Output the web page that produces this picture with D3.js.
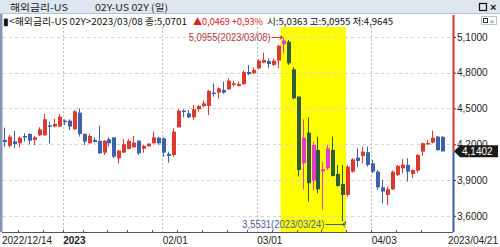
<!DOCTYPE html>
<html>
<head>
<meta charset="utf-8">
<script src="https://cdn.jsdelivr.net/npm/d3@7"></script>
<style>
  body { margin: 0; background: #fff; }
  svg { display: block; }
</style>
</head>
<body>
<svg id="chart"></svg>
<script>
// US 2Y yield, daily candles 2022/12/14 - 2023/04/21
const dates = [
  '2022-12-14','2022-12-15','2022-12-16','2022-12-19','2022-12-20','2022-12-21','2022-12-22','2022-12-23','2022-12-27','2022-12-28','2022-12-29','2022-12-30',
  '2023-01-03','2023-01-04','2023-01-05','2023-01-06','2023-01-09','2023-01-10','2023-01-11','2023-01-12','2023-01-13','2023-01-17','2023-01-18','2023-01-19','2023-01-20','2023-01-23','2023-01-24','2023-01-25','2023-01-26','2023-01-27','2023-01-30','2023-01-31',
  '2023-02-01','2023-02-02','2023-02-03','2023-02-06','2023-02-07','2023-02-08','2023-02-09','2023-02-10','2023-02-13','2023-02-14','2023-02-15','2023-02-16','2023-02-17','2023-02-21','2023-02-22','2023-02-23','2023-02-24','2023-02-27','2023-02-28',
  '2023-03-01','2023-03-02','2023-03-03','2023-03-06','2023-03-07','2023-03-08','2023-03-09','2023-03-10','2023-03-13','2023-03-14','2023-03-15','2023-03-16','2023-03-17','2023-03-20','2023-03-21','2023-03-22','2023-03-23','2023-03-24','2023-03-27','2023-03-28','2023-03-29','2023-03-30','2023-03-31',
  '2023-04-03','2023-04-04','2023-04-05','2023-04-06','2023-04-07','2023-04-10','2023-04-11','2023-04-12','2023-04-13','2023-04-14','2023-04-17','2023-04-18','2023-04-19','2023-04-20','2023-04-21'
];
const open = [
  4.236,4.186,4.225,4.208,4.269,4.286,4.236,4.275,4.275,4.359,4.348,4.348,
  4.398,4.398,4.325,4.465,4.286,4.208,4.236,4.228,4.130,4.242,4.258,4.082,4.130,4.161,4.174,4.230,4.163,4.183,4.208,4.255,
  4.250,4.119,4.110,4.342,4.482,4.459,4.426,4.493,4.521,4.521,4.633,4.633,4.655,4.661,4.700,4.689,4.705,4.806,4.795,
  4.837,4.884,4.898,4.865,4.901,5.0363,5.060,4.828,4.599,4.040,4.297,3.895,4.152,3.973,3.998,4.152,3.951,3.867,3.775,3.970,4.088,4.102,4.133,
  4.040,3.970,3.839,3.775,3.822,3.943,3.998,4.026,3.951,3.979,4.138,4.203,4.214,4.264,4.262
];
const high = [
  4.339,4.278,4.311,4.264,4.292,4.292,4.269,4.342,4.454,4.390,4.412,4.454,
  4.409,4.409,4.487,4.501,4.292,4.286,4.258,4.356,4.236,4.258,4.260,4.152,4.242,4.242,4.269,4.232,4.194,4.208,4.306,4.264,
  4.258,4.138,4.334,4.493,4.493,4.487,4.529,4.529,4.566,4.655,4.711,4.677,4.725,4.753,4.733,4.725,4.817,4.865,4.845,
  4.912,4.968,4.920,4.920,5.032,5.0955,5.074,4.845,4.602,4.409,4.426,4.222,4.264,4.054,4.194,4.264,4.026,4.026,4.026,4.082,4.166,4.180,4.180,
  4.068,3.984,3.901,3.845,3.979,4.026,4.074,4.082,3.990,4.119,4.214,4.236,4.314,4.270,4.268
];
const low = [
  4.180,4.174,4.166,4.174,4.222,4.200,4.194,4.270,4.270,4.208,4.342,4.345,
  4.362,4.320,4.322,4.264,4.194,4.205,4.214,4.119,4.110,4.180,4.082,4.040,4.128,4.158,4.172,4.110,4.130,4.180,4.206,4.194,
  4.096,4.046,4.096,4.340,4.426,4.418,4.404,4.473,4.510,4.445,4.599,4.585,4.622,4.655,4.683,4.683,4.697,4.781,4.789,
  4.828,4.879,4.837,4.856,4.837,4.9645,4.865,4.577,3.929,3.822,3.719,3.817,3.789,3.649,3.984,3.929,3.845,3.5531,3.761,3.962,4.007,4.040,4.012,
  3.957,3.817,3.705,3.691,3.817,3.934,3.957,3.887,3.915,3.962,4.102,4.194,4.208,4.145,4.138
];
const close = [
  4.219,4.264,4.202,4.255,4.258,4.230,4.258,4.325,4.409,4.353,4.370,4.432,
  4.387,4.348,4.476,4.286,4.222,4.269,4.219,4.124,4.228,4.208,4.096,4.147,4.200,4.228,4.214,4.124,4.186,4.205,4.258,4.208,
  4.130,4.102,4.306,4.482,4.471,4.426,4.493,4.521,4.543,4.647,4.622,4.669,4.633,4.733,4.711,4.705,4.806,4.789,4.823,
  4.901,4.907,4.873,4.901,5.027,5.0701,4.879,4.585,3.984,4.255,3.873,4.194,3.822,3.990,4.166,3.934,3.850,3.775,4.012,4.074,4.060,4.138,4.026,
  3.970,3.839,3.803,3.822,3.970,4.018,4.029,3.970,3.984,4.110,4.208,4.211,4.255,4.150,4.1402
];

const yTicks = [5.1, 4.8, 4.5, 4.2, 3.9, 3.6];
const gridDates = ['2023-01-03', '2023-02-01', '2023-03-01', '2023-04-03'];
const labelDates = ['2022-12-14', '2023-01-03', '2023-02-01', '2023-03-01', '2023-04-03', '2023-04-21'];
const labelTexts = ['2022/12/14', '2023', '02/01', '03/01', '04/03', '2023/04/21'];
const highlightFrom = '2023-03-08';
const highlightTo = '2023-03-24';
const lastPrice = 4.1402;

const width = 500;
const height = 247;
const plotRight = 453;
const plotBottom = 232;

const num = d => d3.format('.4f')(d).replace('.', ',');
const fontNum = 'Liberation Sans, Arial, sans-serif';
const fontKr = '"Noto Sans CJK KR", sans-serif';

const svg = d3.select('#chart')
    .attr('width', width)
    .attr('height', height);

const x = d3.scalePoint()
    .domain(dates)
    .range([4, 4 + (dates.length - 1) * 4.976]);

const y = d3.scaleLinear()
    .domain([3.6, 5.1])
    .range([215.8, 36.9]);

// title bar
svg.append('rect')
    .attr('x', 0).attr('y', 0)
    .attr('width', width).attr('height', 14)
    .attr('fill', '#dde7f1');
svg.append('line')
    .attr('x1', 0).attr('x2', width)
    .attr('y1', 13.5).attr('y2', 13.5)
    .attr('stroke', '#b4c4d6');
svg.append('text')
    .attr('x', 10).attr('y', 11)
    .attr('font-family', fontKr).attr('font-size', 9.5)
    .attr('textLength', 58).attr('lengthAdjust', 'spacingAndGlyphs')
    .attr('fill', '#222')
    .text('해외금리-US');
svg.append('text')
    .attr('x', 95).attr('y', 11)
    .attr('font-family', fontKr).attr('font-size', 9.5)
    .attr('textLength', 73).attr('lengthAdjust', 'spacingAndGlyphs')
    .attr('fill', '#222')
    .text('02Y-US 02Y (일)');
svg.append('rect')
    .attr('x', 479.5).attr('y', 3.5)
    .attr('width', 7).attr('height', 7)
    .attr('fill', 'none').attr('stroke', '#111').attr('stroke-width', 1.2);
svg.append('text')
    .attr('x', 490).attr('y', 11)
    .attr('font-family', fontNum).attr('font-size', 11).attr('font-weight', 'bold')
    .attr('fill', '#111')
    .text('×');

// highlight band
svg.append('rect')
    .attr('x', x(highlightFrom) - 2)
    .attr('y', 27)
    .attr('width', x(highlightTo) - x(highlightFrom) + 5.6)
    .attr('height', plotBottom - 27)
    .attr('fill', '#ffff00');

// horizontal grid
svg.append('g')
    .selectAll('line')
    .data(yTicks)
    .enter()
    .append('line')
    .attr('x1', 3).attr('x2', plotRight)
    .attr('y1', d => Math.round(y(d)) + 0.5)
    .attr('y2', d => Math.round(y(d)) + 0.5)
    .attr('stroke', '#d4d4d4')
    .attr('stroke-dasharray', '3,3');

// vertical grid
svg.append('g')
    .selectAll('line')
    .data(gridDates)
    .enter()
    .append('line')
    .attr('x1', d => Math.round(x(d) - 1) + 0.5)
    .attr('x2', d => Math.round(x(d) - 1) + 0.5)
    .attr('y1', 27).attr('y2', plotBottom)
    .attr('stroke', '#bdbdbd')
    .attr('stroke-dasharray', '2,2');

// header line 2
const segs = [
    { x: 3, w: 184, fill: '#111', t: '▮<해외금리-US 02Y>2023/03/08 종:5,0701' },
    { x: 193, w: 70, fill: '#e0201a', t: '▲0,0469 +0,93%' },
    { x: 267, w: 126, fill: '#111', t: '시:5,0363 고:5,0955 저:4,9645' }
];
svg.append('g')
    .selectAll('text')
    .data(segs)
    .enter()
    .append('text')
    .attr('x', d => d.x).attr('y', 25)
    .attr('font-family', fontKr).attr('font-size', 9.5)
    .attr('textLength', d => d.w).attr('lengthAdjust', 'spacingAndGlyphs')
    .attr('fill', d => d.fill)
    .text(d => d.t);

svg.append('rect')
    .attr('x', 481.5).attr('y', 16.5)
    .attr('width', 15).attr('height', 8)
    .attr('fill', '#fff').attr('stroke', '#b8c4d2');
svg.append('rect')
    .attr('x', 483.5).attr('y', 18.5)
    .attr('width', 4).attr('height', 4)
    .attr('fill', 'none').attr('stroke', '#333');
svg.append('text')
    .attr('x', 489.5).attr('y', 23.5)
    .attr('font-family', fontNum).attr('font-size', 8)
    .attr('fill', '#777')
    .text('×');

// candles
const candles = svg.append('g')
    .selectAll('g')
    .data(dates.map((d, i) => ({ date: d, o: open[i], h: high[i], l: low[i], c: close[i] })))
    .enter()
    .append('g');

const inBand = d => d.date >= highlightFrom && d.date <= highlightTo;
const color = d => {
    const up = d.c >= d.o;
    if (inBand(d)) return up ? '#e040c8' : '#2f5c3c';
    return up ? '#dc3a2e' : '#3c62ae';
};

candles.append('line')
    .attr('x1', d => Math.round(x(d.date)) + 0.5)
    .attr('x2', d => Math.round(x(d.date)) + 0.5)
    .attr('y1', d => y(d.h))
    .attr('y2', d => y(d.l))
    .attr('stroke', color);

candles.append('rect')
    .attr('x', d => Math.round(x(d.date)) - 1)
    .attr('width', 4)
    .attr('y', d => y(Math.max(d.o, d.c)))
    .attr('height', d => Math.max(1.5, Math.abs(y(d.o) - y(d.c))))
    .attr('fill', color);

// right axis
const yAxis = d3.axisRight(y)
    .tickValues(yTicks)
    .tickSize(3)
    .tickFormat(num);

const axisG = svg.append('g')
    .attr('transform', `translate(${plotRight},0)`)
    .call(yAxis);
axisG.select('.domain').remove();
axisG.selectAll('.tick line').attr('stroke', '#333');
axisG.selectAll('.tick text')
    .attr('x', 4)
    .attr('fill', '#222')
    .attr('font-family', fontNum)
    .attr('font-size', 10);

svg.append('line')
    .attr('x1', plotRight + 0.5).attr('x2', plotRight + 0.5)
    .attr('y1', 15).attr('y2', y(lastPrice))
    .attr('stroke', '#d8342c').attr('stroke-width', 2);
svg.append('line')
    .attr('x1', plotRight + 0.5).attr('x2', plotRight + 0.5)
    .attr('y1', y(lastPrice)).attr('y2', plotBottom)
    .attr('stroke', '#3a5aa6').attr('stroke-width', 2);

// last price tag
const ly = y(lastPrice);
svg.append('path')
    .attr('d', `M${plotRight + 1},${ly} L${plotRight + 7},${ly - 6} L498,${ly - 6} L498,${ly + 6} L${plotRight + 7},${ly + 6} Z`)
    .attr('fill', '#1a1a1a');
svg.append('text')
    .attr('x', 462).attr('y', ly + 3.8)
    .attr('font-family', fontNum).attr('font-size', 10)
    .attr('fill', '#fff')
    .text(num(lastPrice));

// x axis
svg.append('line')
    .attr('x1', 2).attr('x2', plotRight)
    .attr('y1', plotBottom + 0.5).attr('y2', plotBottom + 0.5)
    .attr('stroke', '#555');

const weekStarts = dates.filter((d, i) => i > 0 &&
    new Date(d).getUTCDay() < new Date(dates[i - 1]).getUTCDay());
svg.append('g')
    .selectAll('line')
    .data(weekStarts)
    .enter()
    .append('line')
    .attr('x1', d => Math.round(x(d) - 1) + 0.5)
    .attr('x2', d => Math.round(x(d) - 1) + 0.5)
    .attr('y1', plotBottom - 2).attr('y2', plotBottom)
    .attr('stroke', '#555');

svg.append('g')
    .selectAll('text')
    .data(labelDates)
    .enter()
    .append('text')
    .attr('x', (d, i) => i === 0 ? 2 : (i === labelDates.length - 1 ? 498 : x(d) - 0.5))
    .attr('y', 244)
    .attr('text-anchor', (d, i) => i === labelDates.length - 1 ? 'end' : 'start')
    .attr('font-family', fontNum)
    .attr('font-size', 10)
    .attr('font-weight', (d, i) => labelTexts[i] === '2023' ? 'bold' : 'normal')
    .attr('fill', '#222')
    .text((d, i) => labelTexts[i]);

// left border
svg.append('rect')
    .attr('x', 0).attr('y', 14)
    .attr('width', 2.5).attr('height', plotBottom - 14)
    .attr('fill', '#8596b8');

// high / low markers
const hiIdx = high.indexOf(d3.max(high));
const loIdx = low.indexOf(d3.min(low));
const hx = x(dates[hiIdx]);
const lx = x(dates[loIdx]);

svg.append('text')
    .attr('x', hx - 12).attr('y', y(high[hiIdx]) + 3.5)
    .attr('text-anchor', 'end')
    .attr('font-family', fontNum).attr('font-size', 10)
    .attr('textLength', 82).attr('lengthAdjust', 'spacingAndGlyphs')
    .attr('fill', '#b03a3a')
    .text(`${num(high[hiIdx])}(${dates[hiIdx].replace(/-/g, '/')})`);
svg.append('path')
    .attr('d', `M${hx - 11},${y(high[hiIdx])} L${hx},${y(high[hiIdx])} M${hx - 3},${y(high[hiIdx]) - 2} L${hx},${y(high[hiIdx])} L${hx - 3},${y(high[hiIdx]) + 2}`)
    .attr('fill', 'none')
    .attr('stroke', '#b03a3a');

svg.append('text')
    .attr('x', lx - 18).attr('y', 227.5)
    .attr('text-anchor', 'end')
    .attr('font-family', fontNum).attr('font-size', 10)
    .attr('textLength', 82).attr('lengthAdjust', 'spacingAndGlyphs')
    .attr('fill', '#4a5c96')
    .text(`${num(low[loIdx])}(${dates[loIdx].replace(/-/g, '/')})`);
svg.append('path')
    .attr('d', `M${lx - 17},224.5 L${lx + 3},224.5 L${lx + 3},${y(low[loIdx])} M${lx},224.5 L${lx + 3},222 M${lx},224.5 L${lx + 3},227`)
    .attr('fill', 'none')
    .attr('stroke', '#4a5c96');
</script>
</body>
</html>
